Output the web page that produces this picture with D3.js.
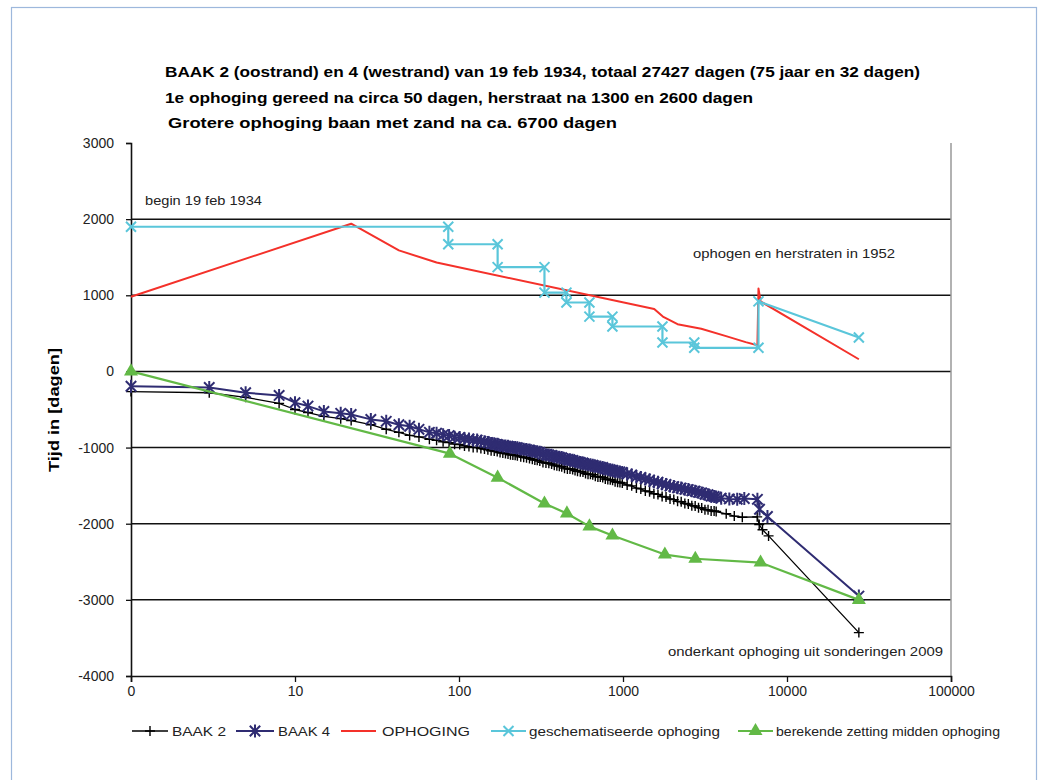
<!DOCTYPE html>
<html>
<head>
<meta charset="utf-8">
<script src="https://cdn.jsdelivr.net/npm/d3@7"></script>
<style>
  body { margin: 0; background: #fff; }
  text { font-family: "Liberation Sans", Arial, sans-serif; }
</style>
</head>
<body>
<div class="board"></div>
<script>
// zetting baak 2 / baak 4, log tijd-as

//globals
var width = 1041;
var height = 780;

var xTicks = [1, 10, 100, 1000, 10000, 100000];
var xTickLabels = ['0', '10', '100', '1000', '10000', '100000'];
var yTicks = [-4000, -3000, -2000, -1000, 0, 1000, 2000, 3000];

// BAAK 2 (oostrand)
var baak2Days = [1, 3, 5, 8, 10, 12, 15, 19, 22, 29, 36, 43, 50, 57, 66, 73, 80, 87, 94, 101,
  108, 115, 122, 129, 136, 143, 150, 157, 164, 171, 178, 185, 192, 199, 206, 213, 220, 227, 238, 248, 258, 269, 280, 290, 300, 311, 325, 339, 353, 367, 381, 395, 409, 423,
  440, 458, 475, 493, 510, 528, 549, 570, 591, 612, 633, 654, 678, 703, 727, 752, 780, 808, 836, 864, 895, 927, 958, 990, 1060, 1130, 1207, 1284, 1368, 1452, 1543, 1634,
  1732, 1830, 1935, 2040, 2152, 2264, 2383, 2502, 2628, 2754, 2887, 3020, 3160, 3300, 3447, 3594, 3700,
  4260, 4770, 5340, 6580, 6770, 7090, 7720, 27427];
var baak2Values = [-265, -280, -340, -420, -500, -540, -590, -620, -645, -700, -760, -800, -840, -860, -890, -905, -925, -935, -955, -960,
  -978, -985, -998, -1000, -1012, -1020, -1030, -1042, -1046, -1052, -1066, -1072, -1078, -1083, -1094, -1098, -1100, -1108, -1122, -1128, -1134, -1142, -1155, -1163, -1168, -1178, -1195, -1203, -1206, -1216, -1231, -1240, -1244, -1252,
  -1270, -1280, -1281, -1287, -1302, -1310, -1316, -1322, -1342, -1350, -1351, -1357, -1378, -1385, -1386, -1392, -1412, -1420, -1422, -1428, -1448, -1455, -1458, -1466, -1492, -1503, -1532, -1543, -1570, -1580, -1606, -1615,
  -1642, -1650, -1675, -1683, -1706, -1712, -1735, -1741, -1763, -1768, -1789, -1794, -1815, -1818, -1832, -1834, -1840,
  -1870, -1900, -1915, -1910, -2010, -2080, -2160, -3430];

// BAAK 4 (westrand)
var baak4Days = [1, 3, 5, 8, 10, 12, 15, 19, 22, 29, 36, 43, 50, 57, 66, 73, 80, 87, 94, 101,
  108, 115, 122, 129, 136, 143, 150, 157, 164, 171, 178, 185, 192, 199, 206, 213, 220, 227, 238, 248, 258, 269, 280, 290, 300, 311, 325, 339, 353, 367, 381, 395, 409, 423,
  440, 458, 475, 493, 510, 528, 549, 570, 591, 612, 633, 654, 678, 703, 727, 752, 780, 808, 836, 864, 895, 927, 958, 990, 1060, 1130, 1207, 1284, 1368, 1452, 1543, 1634,
  1732, 1830, 1935, 2040, 2152, 2264, 2383, 2502, 2628, 2754, 2887, 3020, 3160, 3300, 3447, 3594, 3700,
  3970, 4450, 4970, 5490, 6600, 6800, 7600, 27427];
var baak4Values = [-195, -210, -280, -315, -410, -455, -525, -550, -565, -630, -655, -700, -720, -760, -800, -812, -833, -842, -863, -867,
  -883, -887, -903, -902, -918, -922, -935, -948, -950, -957, -972, -978, -980, -982, -995, -998, -999, -1002, -1018, -1023, -1026, -1032, -1048, -1053, -1055, -1062, -1088, -1093, -1096, -1102, -1119, -1123, -1126, -1132,
  -1152, -1158, -1160, -1167, -1183, -1188, -1195, -1202, -1220, -1223, -1226, -1232, -1250, -1253, -1256, -1262, -1282, -1288, -1290, -1297, -1313, -1318, -1320, -1327, -1348, -1359, -1383, -1392, -1413, -1425, -1448, -1455,
  -1475, -1485, -1505, -1512, -1528, -1532, -1548, -1552, -1568, -1572, -1588, -1595, -1613, -1619, -1638, -1642, -1650,
  -1665, -1675, -1680, -1670, -1680, -1810, -1905, -2950];

// OPHOGING
var ophogingDays = [1, 22, 43, 73, 1550, 1750, 2150, 3000, 4300, 5600, 6600, 6700, 6900, 27427];
var ophogingValues = [980, 1940, 1590, 1430, 820, 720, 620, 560, 460, 385, 345, 1090, 920, 160];

// geschematiseerde ophoging (trappen)
var schemaDays = [1, 86, 86, 172, 172, 332, 332, 452, 452, 624, 624, 862, 862, 1740, 1740, 2720, 2720, 6700, 6700, 27427];
var schemaValues = [1900, 1900, 1670, 1670, 1370, 1370, 1035, 1035, 905, 905, 720, 720, 590, 590, 380, 380, 310, 310, 920, 445];

// berekende zetting midden ophoging
var zettingDays = [1, 88, 172, 332, 455, 624, 862, 1800, 2760, 6900, 27427];
var zettingValues = [0, -1080, -1395, -1735, -1865, -2035, -2155, -2405, -2460, -2510, -3000];

var titleLines = [
  'BAAK 2 (oostrand) en 4 (westrand) van 19 feb 1934, totaal 27427 dagen (75 jaar en 32 dagen)',
  '1e ophoging gereed na circa 50 dagen, herstraat na 1300 en 2600 dagen',
  'Grotere ophoging baan met zand na ca. 6700 dagen'
];

var svg = d3.select('.board').append('svg')
  .attr('width', width)
  .attr('height', height);

// buitenkader
svg.append('rect')
  .attr('x', 11.5).attr('y', 7.5)
  .attr('width', 1025).attr('height', 790)
  .attr('fill', 'none')
  .attr('stroke', '#9db8dc')
  .attr('stroke-width', 1.2);

var x = d3.scaleLog().domain([1, 100000]).range([131, 951]);
var y = d3.scaleLinear().domain([-4000, 3000]).range([676, 143]);

// gridlines
svg.append('g').selectAll('line')
  .data(yTicks.filter(function(d) { return d > -4000 && d < 3000; }))
  .enter().append('line')
  .attr('x1', 131).attr('x2', 951)
  .attr('y1', function(d) { return y(d); })
  .attr('y2', function(d) { return y(d); })
  .attr('stroke', '#111')
  .attr('stroke-width', 1.5);

// plot area border rechts
svg.append('line')
  .attr('x1', 951).attr('x2', 951).attr('y1', 143).attr('y2', 676)
  .attr('stroke', '#999').attr('stroke-width', 1.5);

// axes
var yAxis = svg.append('g')
  .attr('transform', 'translate(131,0)')
  .call(d3.axisLeft(y).tickValues(yTicks).tickSize(5).tickPadding(12)
    .tickFormat(function(d) { return d; }));

var xAxis = svg.append('g')
  .attr('transform', 'translate(0,676)')
  .call(d3.axisBottom(x).tickValues(xTicks).tickSize(6).tickPadding(4)
    .tickFormat(function(d, i) { return xTickLabels[i]; }));

[yAxis, xAxis].forEach(function(g) {
  g.attr('font-size', 14).attr('font-family', '"Liberation Sans", Arial, sans-serif');
  g.select('.domain').attr('stroke', '#111').attr('stroke-width', 1.6);
  g.selectAll('.tick line').attr('stroke', '#111').attr('stroke-width', 1.3);
  g.selectAll('.tick text')
    .style('font-size', '14px')
    .attr('fill', '#222');
});

// marker shapes
var plusPath = function(s) {
  return 'M' + (-s) + ',0H' + s + 'M0,' + (-s) + 'V' + s;
};
var crossPath = function(s) {
  return 'M' + (-s) + ',' + (-s) + 'L' + s + ',' + s + 'M' + (-s) + ',' + s + 'L' + s + ',' + (-s);
};
var starPath = function(s) {
  return crossPath(s) + 'M0,' + (-s * 1.25) + 'V' + (s * 1.25);
};
var trianglePath = d3.symbol().type(d3.symbolTriangle).size(85);

var zip = function(days, values) {
  return days.map(function(d, i) { return {x: d, y: values[i]}; });
};

var line = d3.line()
  .x(function(d) { return x(d.x); })
  .y(function(d) { return y(d.y); });

var series = [
  {name: 'BAAK 2', data: zip(baak2Days, baak2Values), color: '#000', width: 1.3,
    marker: plusPath(5), fill: 'none', mwidth: 1.4},
  {name: 'BAAK 4', data: zip(baak4Days, baak4Values), color: '#2f2c72', width: 2,
    marker: starPath(5.2), fill: 'none', mwidth: 2},
  {name: 'OPHOGING', data: zip(ophogingDays, ophogingValues), color: '#f4312a', width: 2,
    marker: null},
  {name: 'geschematiseerde ophoging', data: zip(schemaDays, schemaValues), color: '#5ac6da', width: 2.2,
    marker: crossPath(5), fill: 'none', mwidth: 2},
  {name: 'berekende zetting midden ophoging', data: zip(zettingDays, zettingValues), color: '#62b946', width: 2.2,
    marker: trianglePath(), fill: '#62b946', mwidth: 0}
];

series.forEach(function(s) {
  var g = svg.append('g');
  g.append('path')
    .datum(s.data)
    .attr('d', line)
    .attr('fill', 'none')
    .attr('stroke', s.color)
    .attr('stroke-width', s.width)
    .attr('stroke-linejoin', 'round');
  if (s.marker) {
    g.selectAll('path.m').data(s.data)
      .enter().append('path')
      .attr('class', 'm')
      .attr('d', s.marker)
      .attr('transform', function(d) { return 'translate(' + x(d.x) + ',' + y(d.y) + ')'; })
      .attr('fill', s.fill)
      .attr('stroke', s.fill === 'none' ? s.color : 'none')
      .attr('stroke-width', s.mwidth);
  }
});

// titel
svg.append('g').selectAll('text')
  .data(titleLines)
  .enter().append('text')
  .attr('x', function(d, i) { return i === 2 ? 168 : 165; })
  .attr('y', function(d, i) { return [77, 103, 128][i]; })
  .attr('textLength', function(d, i) { return [755, 588, 449][i]; })
  .attr('lengthAdjust', 'spacingAndGlyphs')
  .attr('font-size', 15)
  .attr('font-weight', 'bold')
  .attr('fill', '#000')
  .text(function(d) { return d; });

// y-as titel
svg.append('text')
  .attr('transform', 'translate(59,410) rotate(-90)')
  .attr('text-anchor', 'middle')
  .attr('font-size', 15.5)
  .attr('font-weight', 'bold')
  .attr('textLength', 124)
  .attr('lengthAdjust', 'spacingAndGlyphs')
  .text('Tijd in [dagen]');

// annotaties
var notes = [
  {text: 'begin 19 feb 1934', x: 145, y: 205, len: 117},
  {text: 'ophogen en herstraten in 1952', x: 693, y: 258, len: 202},
  {text: 'onderkant ophoging uit sonderingen 2009', x: 668, y: 656, len: 275}
];
svg.append('g').selectAll('text')
  .data(notes)
  .enter().append('text')
  .attr('x', function(d) { return d.x; })
  .attr('y', function(d) { return d.y; })
  .attr('textLength', function(d) { return d.len; })
  .attr('lengthAdjust', 'spacingAndGlyphs')
  .attr('font-size', 13)
  .attr('fill', '#222')
  .text(function(d) { return d.text; });

// legenda
var legendPos = [
  {x1: 132, x2: 168, tx: 172, tend: 226},
  {x1: 236, x2: 274, tx: 278, tend: 330},
  {x1: 341, x2: 376, tx: 382, tend: 470},
  {x1: 491, x2: 526, tx: 529, tend: 720},
  {x1: 738, x2: 773, tx: 776, tend: 1000}
];
var legendY = 731;
var legend = svg.append('g').selectAll('g')
  .data(series)
  .enter().append('g');

legend.append('line')
  .attr('x1', function(d, i) { return legendPos[i].x1; })
  .attr('x2', function(d, i) { return legendPos[i].x2; })
  .attr('y1', legendY).attr('y2', legendY)
  .attr('stroke', function(d) { return d.color; })
  .attr('stroke-width', function(d) { return d.width; });

legend.filter(function(d) { return d.marker; })
  .append('path')
  .attr('d', function(d) { return d.marker; })
  .attr('transform', function(d) {
    var i = series.indexOf(d);
    return 'translate(' + (legendPos[i].x1 + legendPos[i].x2) / 2 + ',' + legendY + ')';
  })
  .attr('fill', function(d) { return d.fill; })
  .attr('stroke', function(d) { return d.fill === 'none' ? d.color : 'none'; })
  .attr('stroke-width', function(d) { return d.mwidth; });

legend.append('text')
  .attr('x', function(d, i) { return legendPos[i].tx; })
  .attr('y', legendY + 5)
  .attr('textLength', function(d, i) { return legendPos[i].tend - legendPos[i].tx; })
  .attr('lengthAdjust', 'spacingAndGlyphs')
  .attr('font-size', 13)
  .attr('fill', '#222')
  .text(function(d) { return d.name; });
</script>
</body>
</html>
